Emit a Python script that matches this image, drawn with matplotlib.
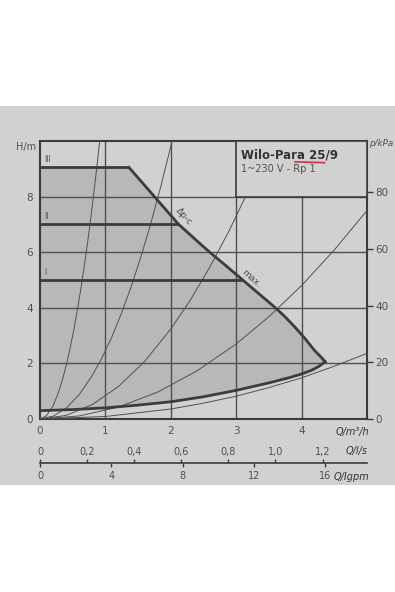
import matplotlib.pyplot as plt
from matplotlib.patches import Rectangle, Polygon

# pump curves, Q in m3/h, H in m
speed_labels = ['I', 'II', 'III']
speed_heads = [5.0, 7.0, 9.05]
speed_ends = [3.09, 2.12, 1.36]

max_q = [1.36, 2.12, 2.3, 2.45, 2.62, 2.8, 2.95, 3.09, 3.25, 3.42, 3.6, 3.75, 3.9, 4.05, 4.2, 4.3, 4.36]
max_h = [9.05, 7.0, 6.62, 6.3, 5.95, 5.6, 5.3, 5.02, 4.7, 4.36, 4.0, 3.67, 3.3, 2.9, 2.46, 2.22, 2.06]

min_q = [0, 0.5, 1, 1.5, 2, 2.5, 3, 3.5, 3.8, 4.0, 4.15, 4.27, 4.36]
min_h = [0.3, 0.34, 0.4, 0.5, 0.62, 0.8, 1.03, 1.3, 1.48, 1.62, 1.75, 1.9, 2.06]

# system curves
sys_a_q = [0, 0.1, 0.2, 0.28, 0.35, 0.41, 0.46, 0.52, 0.58, 0.63, 0.68, 0.72, 0.77, 0.81, 0.86, 0.91]
sys_a_h = [0, 0.12, 0.48, 0.94, 1.47, 2.02, 2.54, 3.24, 4.04, 4.76, 5.55, 6.22, 7.11, 7.87, 8.88, 9.94]
sys_b_q = [0, 0.2, 0.4, 0.6, 0.8, 0.95, 1.1, 1.25, 1.4, 1.55, 1.7, 1.85, 2.02]
sys_b_h = [0, 0.1, 0.39, 0.88, 1.57, 2.21, 2.96, 3.83, 4.8, 5.89, 7.08, 8.39, 10.0]
sys_c_q = [0, 0.4, 0.8, 1.2, 1.6, 2.0, 2.3, 2.6, 2.9, 3.14]
sys_c_h = [0, 0.13, 0.52, 1.17, 2.07, 3.24, 4.28, 5.48, 6.81, 7.99]
sys_d_q = [0, 0.6, 1.2, 1.8, 2.4, 3.0, 3.5, 4.0, 4.5, 5.0]
sys_d_h = [0, 0.11, 0.43, 0.97, 1.73, 2.7, 3.68, 4.8, 6.08, 7.5]
sys_e_q = [0, 1, 2, 2.5, 3, 3.5, 4, 4.5, 5]
sys_e_h = [0, 0.09, 0.36, 0.57, 0.82, 1.13, 1.48, 1.9, 2.36]

h_ticks = [0, 2, 4, 6, 8]
q_ticks = [0, 1, 2, 3, 4]
p_ticks = [0, 20, 40, 60, 80]
ls_ticks = [0, 0.2, 0.4, 0.6, 0.8, 1.0, 1.2]
ls_labels = ['0', '0,2', '0,4', '0,6', '0,8', '1,0', '1,2']
gpm_ticks = [0, 4, 8, 12, 16]

paper = '#d1d1cf'
shade = '#b8b8b6'
ink = '#3c3c3c'
thin = '#505050'
txt = '#505050'

W, H = 395, 592
fig = plt.figure(figsize=(3.95, 5.92), dpi=100)
fig.patch.set_facecolor('white')
fig.patches.append(Rectangle((0, (H - 485) / H), 1, 379 / H, transform=fig.transFigure,
                             facecolor=paper, edgecolor='none', zorder=-10))

ax = fig.add_axes([40 / W, (H - 419) / H, 327 / W, 278 / H])
ax.set_facecolor(paper)
ax.set_xlim(0, 5)
ax.set_ylim(0, 10)

# shaded operating range
poly = [(0, speed_heads[2])] + list(zip(max_q, max_h)) + list(zip(min_q, min_h))[::-1]
ax.add_patch(Polygon(poly, closed=True, facecolor=shade, edgecolor='none', zorder=1))

# grid
for y in [2, 4, 6, 8]:
    ax.plot([0, 5], [y, y], color=thin, lw=1.0, zorder=2)
for x in [1, 2, 3]:
    ax.plot([x, x], [0, 10], color=thin, lw=1.0, zorder=2)
ax.plot([4, 4], [0, 8], color=thin, lw=1.0, zorder=2)

# system curves
for q, h in [(sys_a_q, sys_a_h), (sys_b_q, sys_b_h), (sys_c_q, sys_c_h),
             (sys_d_q, sys_d_h), (sys_e_q, sys_e_h)]:
    ax.plot(q, h, color=thin, lw=0.7, zorder=3)

# pump curves
ax.plot(max_q, max_h, color=ink, lw=2.0, zorder=4, solid_joinstyle='round')
ax.plot(min_q, min_h, color=ink, lw=2.0, zorder=4, solid_joinstyle='round')
for lab, hh, qe in zip(speed_labels, speed_heads, speed_ends):
    ax.plot([0, qe], [hh, hh], color=ink, lw=2.0, zorder=4, solid_capstyle='butt')
    ax.text(0.06, hh + 0.18, lab, fontsize=5.5, color=txt, zorder=5)

ax.text(2.2, 7.3, 'Δp-c', fontsize=6.5, color=txt, rotation=-48, ha='center', va='center', zorder=5)
ax.text(3.23, 5.05, 'max.', fontsize=6.5, color=txt, rotation=-42, ha='center', va='center', zorder=5)

# title box
ax.add_patch(Rectangle((3, 8), 2, 2, facecolor=paper, edgecolor=ink, lw=1.2, zorder=6))
ax.text(3.07, 9.5, 'Wilo-Para 25/9', fontsize=8.5, fontweight='semibold', color='#333333',
        va='center', zorder=7)
ax.text(3.07, 9.0, '1~230 V - Rp 1', fontsize=7, color=txt, va='center', zorder=7)
ax.plot([3.9, 4.35], [9.25, 9.22], color='#d0304a', lw=1.2, zorder=7)

for s in ax.spines.values():
    s.set_color(ink)
    s.set_linewidth(1.5)
ax.set_xticks(q_ticks)
ax.set_yticks(h_ticks)
ax.tick_params(length=0, labelsize=7.5, labelcolor=txt, pad=5)

ax_p = ax.twinx()
ax_p.set_ylim(0, 98.1)
ax_p.set_yticks(p_ticks)
ax_p.tick_params(length=4, width=1, color=ink, labelsize=7.5, labelcolor=txt, pad=2)
for s in ax_p.spines.values():
    s.set_visible(False)

fig.text(16 / W, 1 - 147 / H, 'H/m', fontsize=7, color=txt, va='center')
fig.text(369 / W, 1 - 144 / H, 'p/kPa', fontsize=6.3, color=txt, va='center', style='italic')
fig.text(336 / W, 1 - 432 / H, 'Q/m³/h', fontsize=7, color='#333333', va='center', style='italic')

# flow scales l/s and Igpm
ax_s = fig.add_axes([40 / W, (H - 463) / H, 327 / W, 0.0001])
ax_s.set_xlim(0, 5)
ax_s.set_yticks([])
ax_s.set_xticks([])
ax_s.patch.set_visible(False)
for k in ['top', 'left', 'right']:
    ax_s.spines[k].set_visible(False)
ax_s.spines['bottom'].set_color(ink)
ax_s.spines['bottom'].set_linewidth(1.2)

top = ax_s.secondary_xaxis('top', functions=(lambda q: q / 3.6, lambda l: l * 3.6))
top.set_xticks(ls_ticks)
top.set_xticklabels(ls_labels)
top.tick_params(length=3, width=1, color=ink, labelsize=7, labelcolor=txt, pad=1.5)
top.spines['top'].set_visible(False)

bot = ax_s.secondary_xaxis('bottom', functions=(lambda q: q * 3.666, lambda g: g / 3.666))
bot.set_xticks(gpm_ticks)
bot.tick_params(length=3, width=1, color=ink, labelsize=7, labelcolor=txt, pad=3)
bot.spines['bottom'].set_visible(False)

fig.text(346 / W, 1 - 451 / H, 'Q/l/s', fontsize=7, color='#333333', va='center', style='italic')
fig.text(334 / W, 1 - 477 / H, 'Q/Igpm', fontsize=7, color='#333333', va='center', style='italic')

fig.savefig('out.png', dpi=100)
